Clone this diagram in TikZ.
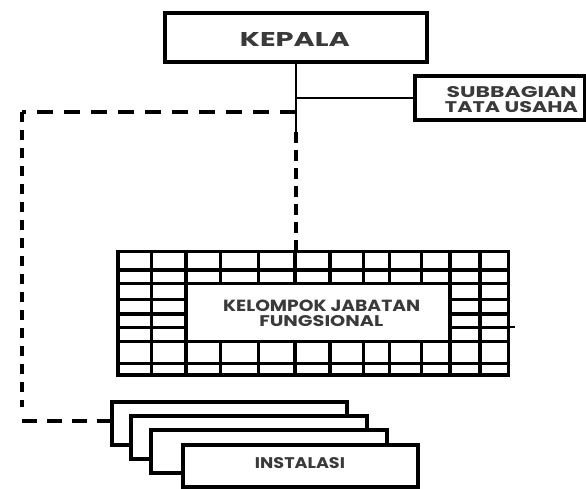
\documentclass[tikz,border=0pt]{standalone}
\usepackage{fontspec}
\setmainfont{Poppins}
\usepackage{graphicx}
\definecolor{txtgray}{HTML}{3A3A3A}
\newcommand{\fitlbl}[3]{\resizebox{#1pt}{#2pt}{\bfseries #3}}
\tikzset{
  boxnode/.style={draw=black, line width=3.4pt, fill=white, inner sep=0pt, rectangle},
  lbl/.style={inner sep=0pt, text=txtgray},
  solidline/.style={draw=black, line width=2.8pt},
  gridline/.style={draw=black, line width=3.4pt},
  dashline/.style={draw=black, line width=3.2pt}
}
\begin{document}
\begin{tikzpicture}[x=1pt,y=-1pt]
\useasboundingbox[fill=white] (0,0) rectangle (586,489);

% KEPALA
\node[boxnode, minimum width=262pt, minimum height=49pt] (kepala) at (296,37.5) {};
\node[lbl] (kepalatxt) at (295,39.5) {\fitlbl{110}{14}{KEPALA}};

% SUBBAGIAN TATA USAHA
\node[boxnode, minimum width=170pt, minimum height=44pt] (sub) at (500,98) {};
\node[lbl] (subtxt1) at (511.7,92.5) {\fitlbl{130}{11}{SUBBAGIAN}};
\node[lbl] (subtxt2) at (511.5,107.5) {\fitlbl{133}{11}{TATA USAHA}};

% grid
\node[inner sep=0pt, minimum width=390pt, minimum height=123.3pt] (grid) at (313.3,313.35) {};
\foreach \gx in {118.3,151.7,186,220.7,258.3,295,330,363.3,389.3,421.7,450,480,508.3}
  \draw[gridline] (\gx,251.7) -- (\gx,375);
\foreach \gy in {251.7,270,283.3,299.3,314,327.3,341.7,363.3,375}
  \draw[gridline] (118.3,\gy) -- (508.3,\gy);
\draw[gridline, line cap=rect] (grid.north west) rectangle (grid.south east);
\node[boxnode, minimum width=264pt, minimum height=58.4pt] (kjf) at (318,312.5) {};
\node[lbl] (kjftxt1) at (321.7,305.8) {\fitlbl{197}{11.5}{KELOMPOK JABATAN}};
\node[lbl] (kjftxt2) at (321.3,321.3) {\fitlbl{124}{11}{FUNGSIONAL}};
\coordinate (stub) at (515,327.3);
\draw[line width=2pt] (grid.east |- stub) -- (stub);

% INSTALASI stack
\node[boxnode, minimum width=235pt, minimum height=43pt] (inst1) at (229.5,423.5) {};
\node[boxnode, minimum width=236pt, minimum height=43pt] (inst2) at (249,437.5) {};
\node[boxnode, minimum width=236pt, minimum height=43pt] (inst3) at (269,451.5) {};
\node[boxnode, minimum width=235pt, minimum height=42pt] (inst4) at (300.5,466) {};
\node[lbl] (insttxt) at (300,462.8) {\fitlbl{90}{11}{INSTALASI}};

% connectors
\coordinate (jsub) at (296,98);
\coordinate (jdash) at (296,112);
\coordinate (jend) at (296,132);
\draw[solidline] (kepala.south -| jend) -- (jend);
\draw[solidline] (jsub) -- (sub.west |- jsub);
\draw[dashline, dash pattern=on 11pt off 7pt] (jend) -- (grid.north -| jend);
\coordinate (lt) at (22,112);
\coordinate (lb) at (22,407);
\coordinate (bl) at (22,421);
\draw[dashline, dash pattern=on 16pt off 11pt] (jdash) -- (lt);
\draw[dashline, dash pattern=on 10pt off 8pt] (lt) -- (lb);
\draw[dashline, dash pattern=on 15pt off 10pt] (bl) -- (inst1.west |- bl);
\end{tikzpicture}
\end{document}
